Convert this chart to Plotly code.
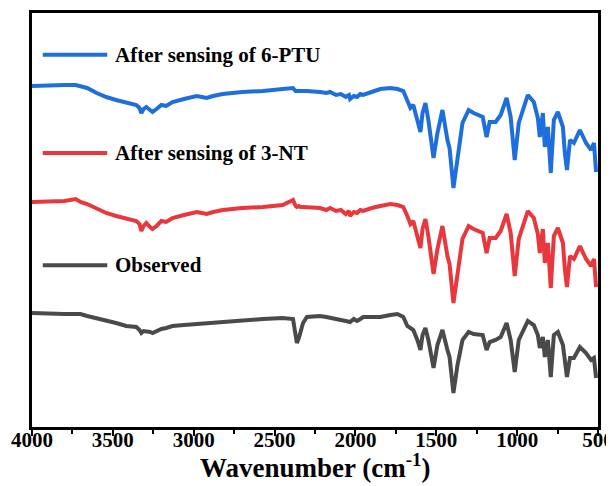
import plotly.graph_objects as go

# Wavenumbers (cm^-1)
wn = [4000, 3900, 3800, 3730, 3700, 3659, 3600, 3541, 3480, 3417, 3355, 3335, 3324, 3310, 3293,
      3270, 3255, 3230, 3200, 3170, 3131, 3060, 2982, 2950, 2920, 2880, 2821, 2700, 2572, 2450,
      2386, 2370, 2362, 2350, 2340, 2324, 2300, 2219, 2180, 2157, 2120, 2090, 2060, 2040, 2033,
      2010, 1990, 1970, 1952, 1900, 1846, 1784, 1740, 1704, 1679, 1660, 1642, 1617, 1598, 1585,
      1567, 1549, 1517, 1493, 1462, 1431, 1418, 1394, 1369, 1338, 1300, 1269, 1213, 1189, 1170,
      1133, 1102, 1065, 1040, 1015, 990, 934, 897, 872, 860, 841, 829, 810, 792, 773,
      748, 717, 705, 692, 673, 649, 612, 574, 543, 525, 512]

# Transmittance (a.u., stacked)
t_6ptu = [341, 342, 342, 342, 341, 339, 334, 330, 327, 324, 322, 319, 314, 318, 320,
          317, 315, 318, 322, 321, 325, 328, 331, 330, 329, 331, 333, 335, 336, 338,
          339, 336, 336, 337, 336, 336, 336, 335, 334, 335, 332, 333, 330, 332, 328,
          331, 330, 333, 332, 335, 338, 339, 338, 336, 327, 319, 322, 307, 295, 314,
          324, 307, 269, 294, 317, 287, 279, 239, 270, 304, 317, 314, 310, 290, 305,
          305, 312, 329, 310, 267, 304, 332, 325, 309, 290, 314, 280, 300, 254, 307,
          315, 300, 274, 257, 287, 284, 297, 284, 277, 284, 255]

t_3nt = [225, 225, 226, 228, 225, 223, 218, 214, 211, 208, 206, 203, 196, 201, 204,
         200, 198, 201, 206, 205, 209, 212, 215, 214, 213, 215, 217, 219, 220, 222,
         227, 221, 220, 221, 220, 220, 220, 219, 217, 219, 216, 217, 213, 216, 211,
         215, 214, 217, 216, 219, 221, 223, 222, 220, 211, 203, 206, 191, 179, 198,
         208, 191, 153, 178, 201, 171, 163, 124, 154, 188, 201, 198, 194, 174, 189,
         189, 196, 213, 194, 151, 188, 216, 209, 193, 174, 198, 164, 184, 139, 191,
         199, 184, 158, 140, 171, 168, 181, 168, 161, 168, 140]

t_obs = [114, 113, 113, 113, 113, 111, 109, 107, 104, 101, 100, 97, 94, 96, 96,
         95, 94, 96, 98, 99, 101, 102, 103, 103, 104, 104, 105, 106, 108, 109,
         108, 92, 84, 89, 94, 104, 110, 111, 110, 109, 108, 107, 106, 105, 105,
         108, 106, 108, 110, 110, 110, 112, 113, 110, 101, 99, 97, 87, 77, 92,
         99, 87, 59, 82, 97, 77, 70, 34, 62, 87, 95, 93, 92, 77, 85,
         87, 90, 104, 87, 55, 87, 106, 102, 92, 79, 90, 70, 87, 50, 92,
         95, 82, 62, 50, 69, 69, 80, 74, 67, 69, 49]

names = ["After sensing of 6-PTU", "After sensing of 3-NT", "Observed"]
colors = ["#1E6FDC", "#E8383D", "#4A4A4A"]
series = [t_6ptu, t_3nt, t_obs]

tick_vals = [4000, 3500, 3000, 2500, 2000, 1500, 1000, 500]
tick_text = ["4000", "3500", "3000", "2500", "2000", "1500", "1000", "500"]
x_title = "<b>Wavenumber (cm<sup>-1</sup>)</b>"

fig = go.Figure()
for name, col, ys in zip(names, colors, series):
    fig.add_trace(go.Scatter(x=wn, y=ys, mode="lines", name=name,
                             line=dict(color=col, width=4), showlegend=False))

FONT = "Liberation Serif, Times New Roman, serif"
legend_y = [0.899, 0.662, 0.391]
for name, col, yy in zip(names, colors, legend_y):
    fig.add_shape(type="line", xref="paper", yref="paper", x0=0.019, x1=0.133,
                  y0=yy, y1=yy, line=dict(color=col, width=4))
    fig.add_annotation(xref="paper", yref="paper", x=0.143, y=yy, text="<b>%s</b>" % name,
                       showarrow=False, xanchor="left", yanchor="middle",
                       font=dict(family=FONT, size=21, color="black"))

# axis title as annotation for exact placement
fig.add_annotation(xref="paper", yref="paper", x=0.5, y=-0.094, text=x_title,
                   showarrow=False, xanchor="center", yanchor="middle",
                   font=dict(family=FONT, size=27, color="black"))

# page body has an 8px margin: figure sits at (8, 8)
fig.update_layout(
    width=606, height=478,
    margin=dict(l=24, r=16, t=5, b=59, autoexpand=False),
    paper_bgcolor="white", plot_bgcolor="white",
    font=dict(family=FONT, color="black"),
)
fig.update_xaxes(
    range=[4000, 500], tickvals=tick_vals, ticktext=tick_text, automargin=False,
    ticks="outside", ticklen=6, tickwidth=2, tickcolor="black", ticklabelstandoff=-14,
    minor=dict(dtick=250, ticks="outside", ticklen=4, tickwidth=2, tickcolor="black"),
    showline=True, linewidth=3, linecolor="black", mirror=True, showgrid=False, zeroline=False,
    tickfont=dict(family=FONT, size=21, color="black", weight="bold"),
)
fig.update_yaxes(
    range=[0, 414], showticklabels=False, ticks="", showline=True, linewidth=3,
    linecolor="black", mirror=True, showgrid=False, zeroline=False, automargin=False,
)
fig.write_html("out.html")
